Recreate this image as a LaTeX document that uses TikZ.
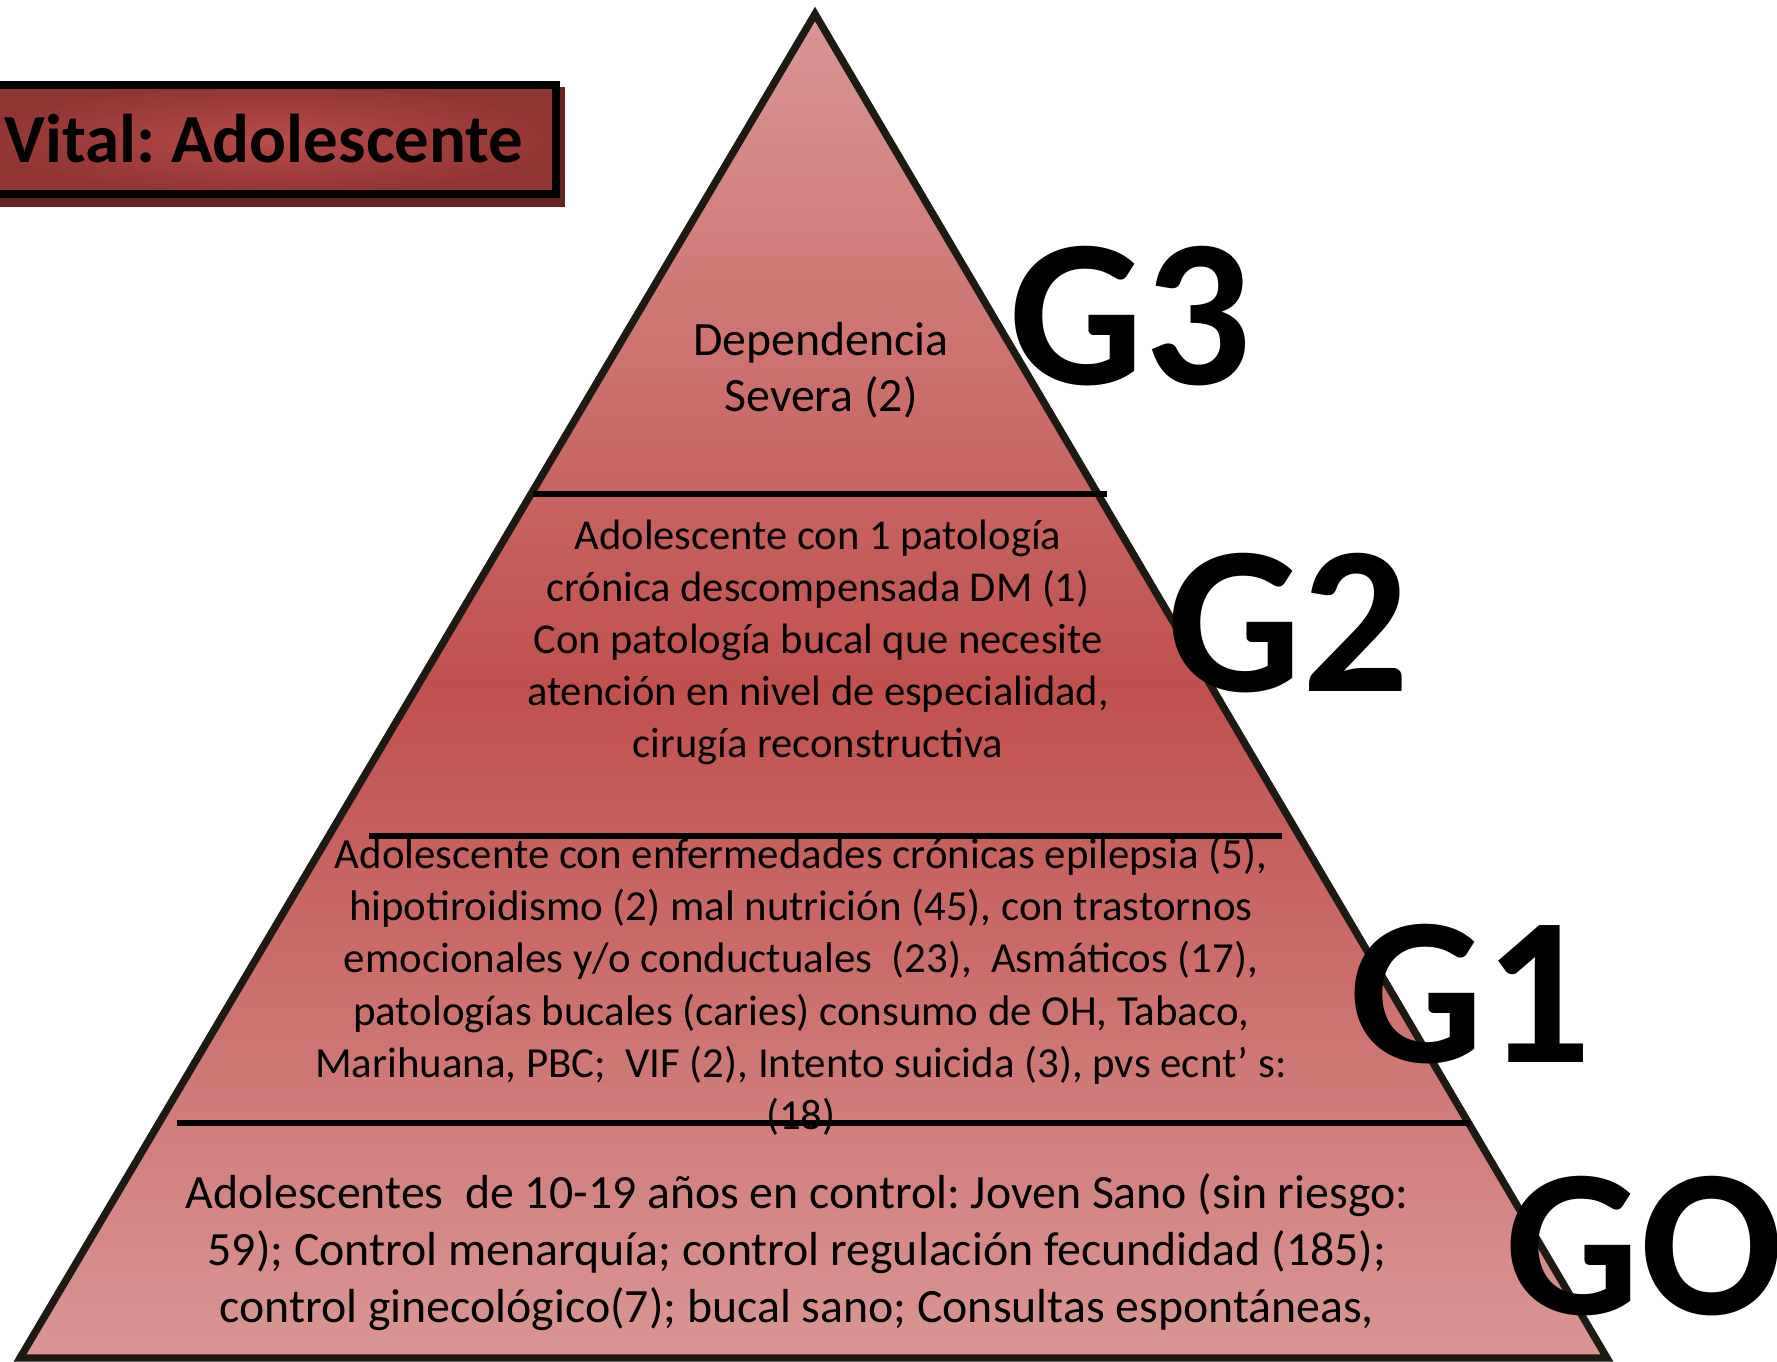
\documentclass[tikz,border=0pt]{standalone}
\usepackage{fontspec}
\setmainfont{Carlito}
\usetikzlibrary{calc}

\definecolor{pyrlight}{HTML}{D99694}
\definecolor{pyrdark}{HTML}{C0504D}
\definecolor{pyredge}{HTML}{1D1A14}
\definecolor{tagred}{HTML}{B84C4A}
\definecolor{tagdark}{HTML}{913533}
\definecolor{tagshadow}{HTML}{652524}

\pgfdeclareverticalshading{pyramidshade}{100bp}{color(0bp)=(pyrlight); color(25bp)=(pyrlight); color(50bp)=(pyrdark); color(75bp)=(pyrlight); color(100bp)=(pyrlight)}

\begin{document}
\frenchspacing
\begin{tikzpicture}[
  level/.style={align=center, inner sep=0pt, anchor=base},
  grade/.style={font=\fontsize{60}{62}\selectfont\bfseries, inner sep=0pt, anchor=base west},
  divider/.style={line width=1.5pt, black}
]
\useasboundingbox (0,0) rectangle (17.77,13.62);

% Title tag (top left)
\fill[tagshadow] (-0.1,12.75) rectangle (5.65,11.55);
\shadedraw[inner color=tagred, outer color=tagdark, draw=black, line width=2.3pt]
  (-0.1,12.77) rectangle (5.56,11.68);
\node[font=\fontsize{19.6}{22}\selectfont\bfseries, anchor=base west, inner sep=0pt] (vital) at (0.04,11.99) {Vital: Adolescente};

% Pyramid
\coordinate (apex) at (8.15,13.48);
\coordinate (bl) at (0.20,0.04);
\coordinate (br) at (16.07,0.04);
\shade[shading=pyramidshade] (apex) -- (bl) -- (br) -- cycle;
\draw[pyredge, line width=2.1pt, line join=miter] (apex) -- (bl) -- (br) -- cycle;

% Level borders
\draw[divider] (5.33,8.68) -- (11.07,8.68);
\draw[divider] (3.69,5.26) -- (12.82,5.26);
\draw[divider] (1.77,2.39) -- (14.70,2.39);

% Level texts (anchored on their last line)
\node[level, font=\fontsize{13.6}{16.2}\selectfont] (g3text) at (8.21,9.50) {Dependencia\\Severa (2)};
\node[level, font=\fontsize{12.1}{14.8}\selectfont] (g2text) at (8.18,6.04)
  {Adolescente con 1 patología\\crónica descompensada DM (1)\\Con patología bucal que necesite\\atención en nivel de especialidad,\\cirugía reconstructiva};
\node[level, font=\fontsize{12.2}{14.9}\selectfont] (g1text) at (8.01,2.32)
  {Adolescente con enfermedades crónicas epilepsia (5),\\hipotiroidismo (2) mal nutrición (45), con trastornos\\emocionales y/o conductuales\ \ (23),\ \ Asmáticos (17),\\patologías bucales (caries) consumo de OH, Tabaco,\\Marihuana, PBC;\ \ VIF (2), Intento suicida (3), pvs ecnt’ s:\\(18)};
\node[level, font=\fontsize{13.6}{16.3}\selectfont] (g0text) at (7.97,0.39)
  {Adolescentes\ \ de 10-19 años en control: Joven Sano (sin riesgo:\\59); Control menarquía; control regulación fecundidad (185);\\control ginecológico(7); bucal sano; Consultas espontáneas,};

% Grade labels
\node[grade] (g3) at (10.09,9.77) {G3};
\node[grade] (g2) at (11.67,6.70) {G2};
\node[grade] (g1) at (13.49,2.99) {G1};
\node[grade] (g0) at (15.05,0.47) {GO};

\end{tikzpicture}
\end{document}
